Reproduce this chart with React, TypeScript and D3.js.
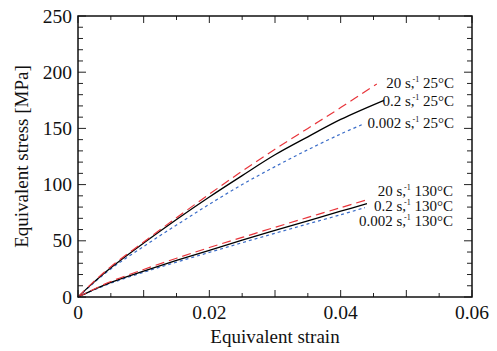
import React from "react";
import * as d3 from "d3";

const strainRed25 = [0, 0.002, 0.005, 0.01, 0.015, 0.02, 0.025, 0.03, 0.035, 0.04, 0.0455];
const stressRed25 = [0, 11.5, 27, 49, 70.5, 91.5, 112, 131.5, 150, 168.5, 189.5];
const strainBlack25 = [0, 0.002, 0.005, 0.01, 0.015, 0.02, 0.025, 0.03, 0.035, 0.04, 0.0466];
const stressBlack25 = [0, 11, 26, 48, 69, 89, 108, 126.5, 142.5, 158, 175];
const strainBlue25 = [0, 0.002, 0.005, 0.01, 0.015, 0.02, 0.025, 0.03, 0.035, 0.04, 0.0435];
const stressBlue25 = [0, 10.5, 25, 45, 64, 82.5, 100, 116, 131, 145, 154];

const strainRed130 = [0, 0.002, 0.005, 0.01, 0.015, 0.02, 0.025, 0.03, 0.035, 0.04, 0.0437];
const stressRed130 = [0, 5.8, 13.8, 24.5, 34.5, 44, 53, 62, 70.8, 79.5, 86];
const strainBlack130 = [0, 0.002, 0.005, 0.01, 0.015, 0.02, 0.025, 0.03, 0.035, 0.04, 0.044];
const stressBlack130 = [0, 5.5, 13, 23, 32.5, 41.5, 50.5, 59.2, 67.8, 76.3, 83];
const strainBlue130 = [0, 0.002, 0.005, 0.01, 0.015, 0.02, 0.025, 0.03, 0.035, 0.04, 0.0437];
const stressBlue130 = [0, 5.2, 12.3, 22, 31, 39.7, 48.3, 56.7, 65, 73.2, 79.5];

const xTickLabels = [0, 0.02, 0.04, 0.06];
const yTickLabels = [0, 50, 100, 150, 200, 250];

const rateLabels = ["20", "0.2", "0.002"];
const tempLabels = ["25", "130"];

const W = 497, H = 351;
const L = 78, R = 472, T = 16, B = 297;

const x = d3.scaleLinear().domain([0, 0.06]).range([L, R]);
const y = d3.scaleLinear().domain([0, 250]).range([B, T]);

const FONT = "'Liberation Serif', 'Times New Roman', Times, serif";

type S = { xs: number[]; ys: number[]; color: string; dash: string; w: number };
const series: S[] = [
  { xs: strainBlue25, ys: stressBlue25, color: "#3a6cc8", dash: "3,3", w: 1.2 },
  { xs: strainBlack25, ys: stressBlack25, color: "#000", dash: "", w: 1.3 },
  { xs: strainRed25, ys: stressRed25, color: "#e8353b", dash: "9,5", w: 1.2 },
  { xs: strainBlue130, ys: stressBlue130, color: "#3a6cc8", dash: "3,3", w: 1.2 },
  { xs: strainBlack130, ys: stressBlack130, color: "#000", dash: "", w: 1.3 },
  { xs: strainRed130, ys: stressRed130, color: "#e8353b", dash: "9,5", w: 1.2 },
];

const line = d3
  .line<[number, number]>()
  .x((d) => x(d[0]))
  .y((d) => y(d[1]))
  .curve(d3.curveCatmullRom);

function Label({ rate, temp, xr, yb }: { rate: string; temp: string; xr: number; yb: number }) {
  return (
    <text x={xr} y={yb} textAnchor="end" style={{ fontFamily: FONT }} fontSize={15} fill="#111">
      {rate} s,
      <tspan dx={-2} dy={-6} fontSize={8}>-1</tspan>
      <tspan dy={6}> {temp}°C</tspan>
    </text>
  );
}

export default function App() {
  const xMinor = d3.range(0, 0.0601, 0.005);
  const yMinor = d3.range(0, 251, 10);
  return (
    <svg width={W} height={H} style={{ position: "absolute", left: 0, top: 0, background: "#fff" }}>
      <rect x={0} y={0} width={W} height={H} fill="#fff" />
      {series.map((s, i) => (
        <path
          key={i}
          d={line(s.xs.map((v, j) => [v, s.ys[j]] as [number, number])) || ""}
          fill="none"
          stroke={s.color}
          strokeWidth={s.w}
          strokeDasharray={s.dash}
        />
      ))}
      {xMinor.map((v, i) => {
        const major = Math.abs(v / 0.01 - Math.round(v / 0.01)) < 1e-6;
        const len = major ? 7 : 4;
        return (
          <g key={"xt" + i} stroke="#222" strokeWidth={1}>
            <line x1={x(v)} x2={x(v)} y1={B} y2={B - len} />
            <line x1={x(v)} x2={x(v)} y1={T} y2={T + len} />
          </g>
        );
      })}
      {yMinor.map((v, i) => {
        const major = v % 50 === 0;
        const len = major ? 8 : 5;
        return (
          <g key={"yt" + i} stroke="#222" strokeWidth={1}>
            <line x1={L} x2={L + len} y1={y(v)} y2={y(v)} />
            <line x1={R} x2={R - len} y1={y(v)} y2={y(v)} />
          </g>
        );
      })}
      <rect x={L} y={T} width={R - L} height={B - T} fill="none" stroke="#111" strokeWidth={1.5} />
      {xTickLabels.map((v) => (
        <text key={"xl" + v} x={x(v)} y={319} textAnchor="middle" style={{ fontFamily: FONT }} fontSize={19.5} fill="#111">
          {v === 0 ? "0" : v.toFixed(2)}
        </text>
      ))}
      {yTickLabels.map((v) => (
        <text key={"yl" + v} x={72} y={y(v) + 6.5} textAnchor="end" style={{ fontFamily: FONT }} fontSize={19.5} fill="#111">
          {v}
        </text>
      ))}
      <text x={(L + R) / 2} y={343} textAnchor="middle" style={{ fontFamily: FONT }} fontSize={19} fill="#111">
        Equivalent strain
      </text>
      <text
        transform={`translate(28, ${(T + B) / 2}) rotate(-90)`}
        textAnchor="middle"
        style={{ fontFamily: FONT }}
        fontSize={19}
        fill="#111"
      >
        Equivalent stress [MPa]
      </text>
      <Label rate={rateLabels[0]} temp={tempLabels[0]} xr={454} yb={88} />
      <Label rate={rateLabels[1]} temp={tempLabels[0]} xr={454} yb={106} />
      <Label rate={rateLabels[2]} temp={tempLabels[0]} xr={454} yb={128} />
      <Label rate={rateLabels[0]} temp={tempLabels[1]} xr={453} yb={196} />
      <Label rate={rateLabels[1]} temp={tempLabels[1]} xr={453} yb={211} />
      <Label rate={rateLabels[2]} temp={tempLabels[1]} xr={453} yb={226} />
    </svg>
  );
}
